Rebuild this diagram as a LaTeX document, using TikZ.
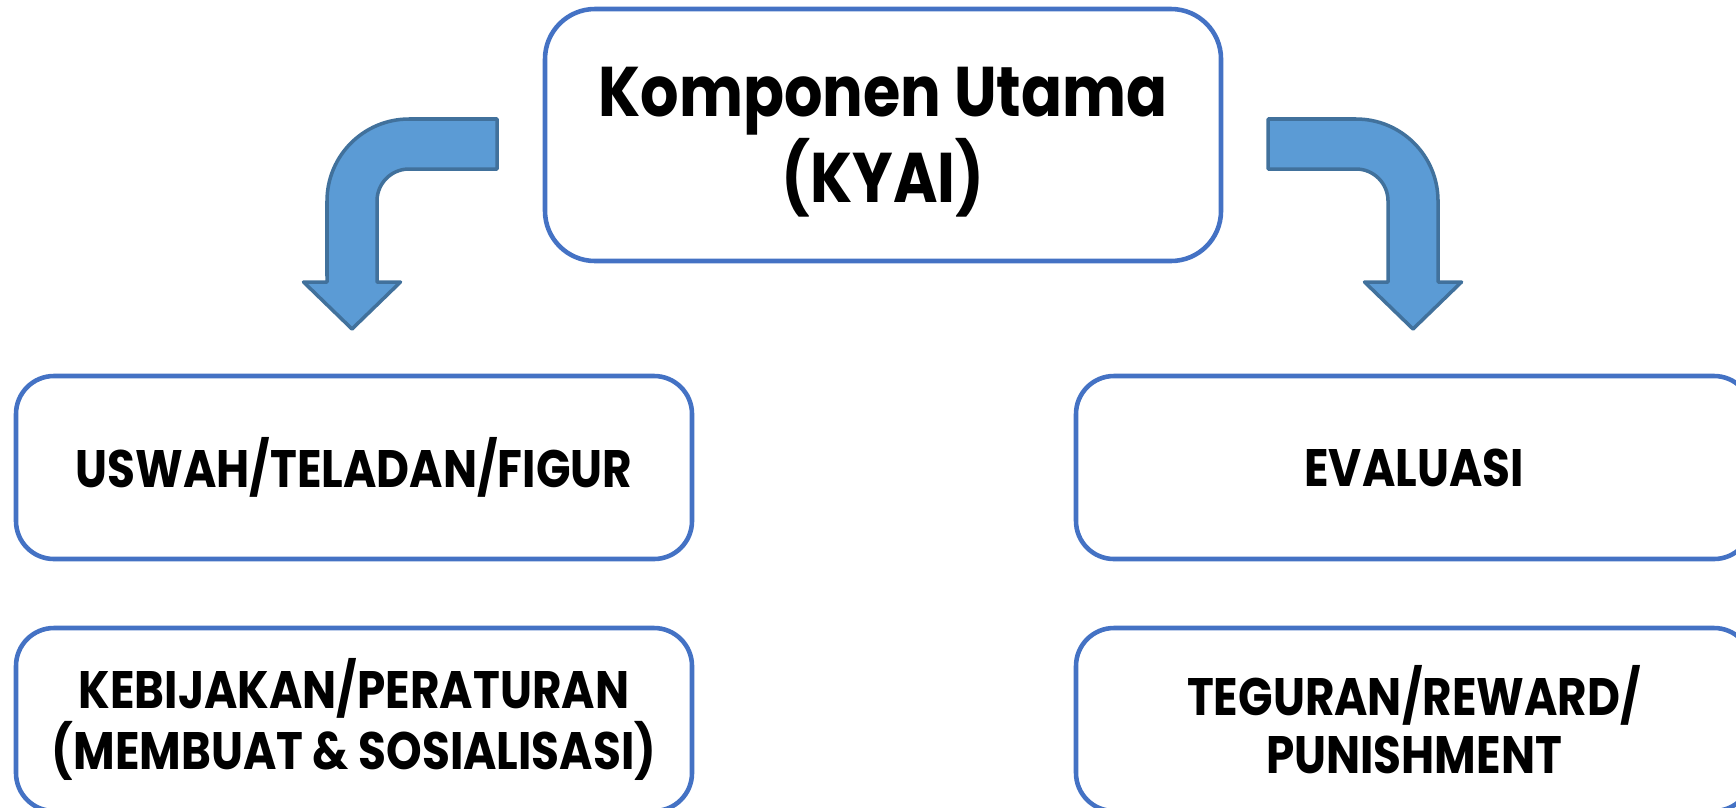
\documentclass[tikz,border=0pt]{standalone}
\usepackage{fontspec}
\setmainfont{Poppins}[FakeStretch=0.86]
\usepackage{xcolor}
\usepackage{tikz}
\usetikzlibrary{positioning,calc}

\definecolor{boxblue}{HTML}{4472C4}
\definecolor{arrowfill}{HTML}{5B9BD5}
\definecolor{arrowline}{HTML}{41719C}

\tikzset{
    mainbox/.style={draw=boxblue, line width=1.3pt, rounded corners=0.5cm,
        minimum width=6.76cm, minimum height=2.52cm, align=center,
        font=\fontsize{20}{22}\selectfont\bfseries},
    subbox/.style={draw=boxblue, line width=1.3pt, rounded corners=0.38cm,
        minimum width=6.76cm, minimum height=1.83cm, align=center,
        font=\fontsize{15}{16.4}\selectfont\bfseries},
    bentarrow/.style={draw=arrowline, fill=arrowfill, line width=1pt, line join=round}
}

\begin{document}
\begin{tikzpicture}
    \useasboundingbox (0,0) rectangle (17.36,8.07);
    \clip (0,0) rectangle (17.36,8.07);

    \node[mainbox, text depth=0pt] (kyai) at (8.83,6.72) {Komponen Utama\\(KYAI)};

    % Left
    \node[subbox] (uswah) at (3.54,3.395) {USWAH/TELADAN/FIGUR};
    \node[subbox] (kebijakan) at (3.54,0.875) {KEBIJAKAN/PERATURAN\\(MEMBUAT \& SOSIALISASI)};

    % Right
    \node[subbox] (evaluasi) at (14.14,3.395) {EVALUASI};
    \node[subbox] (teguran) at (14.14,0.875) {TEGURAN/REWARD/\\PUNISHMENT};

    % Bent arrows
    \draw[bentarrow] (4.97,6.88) -- (4.09,6.88) arc[start angle=90, end angle=180, radius=0.82]
        -- (3.27,5.25) -- (3.035,5.25) -- (3.52,4.78) -- (4.005,5.25) -- (3.77,5.25)
        -- (3.77,6.06) arc[start angle=180, end angle=90, radius=0.32] -- (4.97,6.38) -- cycle;
    \draw[bentarrow] (12.68,6.88) -- (13.56,6.88) arc[start angle=90, end angle=0, radius=0.82]
        -- (14.38,5.25) -- (14.615,5.25) -- (14.13,4.78) -- (13.645,5.25) -- (13.88,5.25)
        -- (13.88,6.06) arc[start angle=0, end angle=90, radius=0.32] -- (12.68,6.38) -- cycle;
\end{tikzpicture}
\end{document}
